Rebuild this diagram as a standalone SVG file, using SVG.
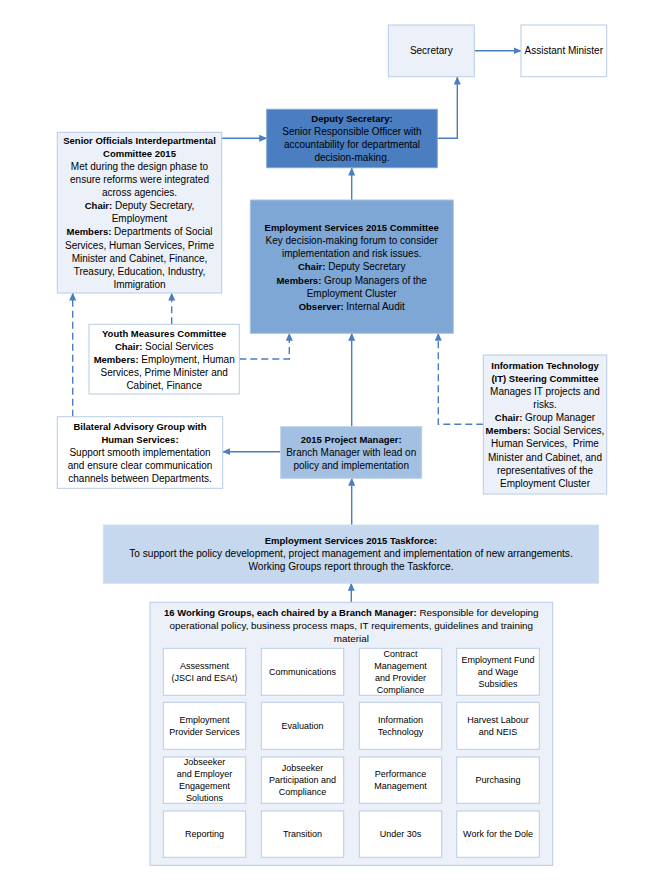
<svg xmlns="http://www.w3.org/2000/svg" width="663" height="891" viewBox="0 0 663 891">
<defs>
<style>
text{font-family:"Liberation Sans",Arial,sans-serif;font-size:10px;fill:#000;text-anchor:middle}
.b{font-weight:bold;font-size:9.5px}
.s{font-size:9px}
.h{font-size:9.9px}
.h .b{font-size:9.5px}
.t{font-size:10.15px}
.box{stroke:#B8CCE6;stroke-width:1}
.lt{fill:#ECF1F9}
.wh{fill:#FFFFFF}
.ds{fill:#4A7EC0;stroke:#7FA6D6}
.ec{fill:#7EA7D6;stroke:#A9C3E4}
.pm{fill:#A3C0E3;stroke:#BBD0EA}
.tf{fill:#C6D8EE;stroke:#D2E0F2}
.c{fill:none;stroke:#4A7EC0;stroke-width:1.4}
.d{stroke-dasharray:7,4}
</style>
<marker id="ah" viewBox="0 0 8 8" refX="7.5" refY="4" markerWidth="8" markerHeight="8" markerUnits="userSpaceOnUse" orient="auto">
<path d="M0,0.5 L8,4 L0,7.5 z" fill="#4A7EC0"/>
</marker>
</defs>
<rect width="663" height="891" fill="#FFFFFF"/>

<g id="connectors">
<line class="c" x1="474.3" y1="50.7" x2="521" y2="50.7" marker-end="url(#ah)"/>
<polyline class="c" points="437.3,138.3 457.3,138.3 457.3,77" marker-end="url(#ah)"/>
<line class="c" x1="221.7" y1="138.3" x2="266.7" y2="138.3" marker-end="url(#ah)"/>
<line class="c" x1="351.7" y1="200" x2="351.7" y2="168" marker-end="url(#ah)"/>
<line class="c" x1="351.7" y1="426.7" x2="351.7" y2="333.3" marker-end="url(#ah)"/>
<line class="c" x1="351.7" y1="525" x2="351.7" y2="478.3" marker-end="url(#ah)"/>
<line class="c" x1="351.3" y1="602.3" x2="351.3" y2="583.3" marker-end="url(#ah)"/>
<line class="c" x1="280.7" y1="451.7" x2="222.7" y2="451.7" marker-end="url(#ah)"/>
<polyline class="c d" points="239.3,359 289.3,359 289.3,333.3" marker-end="url(#ah)"/>
<line class="c d" x1="171.7" y1="324.3" x2="171.7" y2="293" marker-end="url(#ah)"/>
<line class="c d" x1="72.7" y1="416.7" x2="72.7" y2="293" marker-end="url(#ah)"/>
<polyline class="c d" points="483.3,424.3 438.3,424.3 438.3,333.3" marker-end="url(#ah)"/>
</g>

<g id="secretary">
<rect class="box lt" x="388.3" y="25" width="86" height="51.7"/>
<text x="431.3" y="54">Secretary</text>
</g>

<g id="assistant-minister">
<rect class="box wh" x="521" y="25" width="85.7" height="51.7"/>
<text x="563.8" y="54">Assistant Minister</text>
</g>

<g id="deputy-secretary">
<rect class="box ds" x="266.7" y="109.3" width="170.6" height="58.4"/>
<text x="352" y="122" class="b">Deputy Secretary:</text>
<text x="352" y="135">Senior Responsible Officer with</text>
<text x="352" y="148">accountability for departmental</text>
<text x="352" y="161">decision-making.</text>
</g>

<g id="senior-officials">
<rect class="box lt" x="57.3" y="132.3" width="164.4" height="160.7"/>
<text x="139.5" y="144" class="b">Senior Officials Interdepartmental</text>
<text x="139.5" y="157" class="b">Committee 2015</text>
<text x="139.5" y="170.1">Met during the design phase to</text>
<text x="139.5" y="183.2">ensure reforms were integrated</text>
<text x="139.5" y="196.3">across agencies.</text>
<text x="139.5" y="209.3"><tspan class="b">Chair:</tspan> Deputy Secretary,</text>
<text x="139.5" y="222.4">Employment</text>
<text x="139.5" y="235.4"><tspan class="b">Members:</tspan> Departments of Social</text>
<text x="139.5" y="248.5">Services, Human Services, Prime</text>
<text x="139.5" y="261.5">Minister and Cabinet, Finance,</text>
<text x="139.5" y="274.6">Treasury, Education, Industry,</text>
<text x="139.5" y="287.6">Immigration</text>
</g>

<g id="employment-services-committee">
<rect class="box ec" x="250.3" y="200" width="203" height="133.3"/>
<text x="351.7" y="230.6" class="b">Employment Services 2015 Committee</text>
<text x="351.7" y="243.8">Key decision-making forum to consider</text>
<text x="351.7" y="257">implementation and risk issues.</text>
<text x="351.7" y="270.3"><tspan class="b">Chair:</tspan> Deputy Secretary</text>
<text x="351.7" y="283.5"><tspan class="b">Members:</tspan> Group Managers of the</text>
<text x="351.7" y="296.7">Employment Cluster</text>
<text x="351.7" y="309.9"><tspan class="b">Observer:</tspan> Internal Audit</text>
</g>

<g id="youth-measures">
<rect class="box wh" x="89" y="324.3" width="150.3" height="69.7"/>
<text x="164.2" y="336.6" class="b">Youth Measures Committee</text>
<text x="164.2" y="349.7"><tspan class="b">Chair:</tspan> Social Services</text>
<text x="164.2" y="362.8"><tspan class="b">Members:</tspan> Employment, Human</text>
<text x="164.2" y="375.9">Services, Prime Minister and</text>
<text x="164.2" y="389">Cabinet, Finance</text>
</g>

<g id="it-steering">
<rect class="box lt" x="483.3" y="355" width="123.4" height="139"/>
<text x="545" y="369" class="b">Information Technology</text>
<text x="545" y="382.1" class="b">(IT) Steering Committee</text>
<text x="545" y="395.1">Manages IT projects and</text>
<text x="545" y="408.2">risks.</text>
<text x="545" y="421.3"><tspan class="b">Chair:</tspan> Group Manager</text>
<text x="545" y="434.3"><tspan class="b">Members:</tspan> Social Services,</text>
<text x="545" y="447.4" xml:space="preserve">Human Services,  Prime</text>
<text x="545" y="460.5">Minister and Cabinet, and</text>
<text x="545" y="473.5">representatives of the</text>
<text x="545" y="486.6">Employment Cluster</text>
</g>

<g id="project-manager">
<rect class="box pm" x="280.7" y="426.7" width="141" height="51.6"/>
<text x="351.2" y="442.6" class="b">2015 Project Manager:</text>
<text x="351.2" y="455.7">Branch Manager with lead on</text>
<text x="351.2" y="468.8">policy and implementation</text>
</g>

<g id="bilateral-advisory">
<rect class="box wh" x="57.3" y="416.7" width="165.4" height="71.6"/>
<text x="140" y="430" class="b">Bilateral Advisory Group with</text>
<text x="140" y="443" class="b">Human Services:</text>
<text x="140" y="456">Support smooth implementation</text>
<text x="140" y="469">and ensure clear communication</text>
<text x="140" y="482">channels between Departments.</text>
</g>

<g id="taskforce">
<rect class="box tf" x="103.3" y="525" width="495.4" height="58.3"/>
<text x="351" y="544" class="b">Employment Services 2015 Taskforce:</text>
<text x="351" y="557.2" class="t">To support the policy development, project management and implementation of new arrangements.</text>
<text x="351" y="570.4" class="t">Working Groups report through the Taskforce.</text>
</g>

<g id="working-groups">
<rect class="box lt" x="150" y="602.3" width="402.7" height="263"/>
<text x="351.3" y="616.2" class="h"><tspan class="b">16 Working Groups, each chaired by a Branch Manager:</tspan> Responsible for developing</text>
<text x="351.3" y="628.9" class="h">operational policy, business process maps, IT requirements, guidelines and training</text>
<text x="351.3" y="641.6" class="h">material</text>
</g>

<g id="wg-assessment">
<rect class="box wh" x="163.3" y="648.3" width="82.4" height="47"/>
<text x="204.5" y="668.8" class="s">Assessment</text>
<text x="204.5" y="680.8" class="s">(JSCI and ESAt)</text>
</g>
<g id="wg-communications">
<rect class="box wh" x="261.3" y="648.3" width="82.4" height="47"/>
<text x="302.5" y="674.8" class="s">Communications</text>
</g>
<g id="wg-contract-management">
<rect class="box wh" x="359.3" y="648.3" width="82.4" height="47"/>
<text x="400.5" y="656.8" class="s">Contract</text>
<text x="400.5" y="668.8" class="s">Management</text>
<text x="400.5" y="680.8" class="s">and Provider</text>
<text x="400.5" y="692.8" class="s">Compliance</text>
</g>
<g id="wg-employment-fund">
<rect class="box wh" x="456.7" y="648.3" width="82.6" height="47"/>
<text x="498" y="662.8" class="s">Employment Fund</text>
<text x="498" y="674.8" class="s">and Wage</text>
<text x="498" y="686.8" class="s">Subsidies</text>
</g>

<g id="wg-employment-provider">
<rect class="box wh" x="163.3" y="702.3" width="82.4" height="47"/>
<text x="204.5" y="722.8" class="s">Employment</text>
<text x="204.5" y="734.8" class="s">Provider Services</text>
</g>
<g id="wg-evaluation">
<rect class="box wh" x="261.3" y="702.3" width="82.4" height="47"/>
<text x="302.5" y="728.8" class="s">Evaluation</text>
</g>
<g id="wg-information-technology">
<rect class="box wh" x="359.3" y="702.3" width="82.4" height="47"/>
<text x="400.5" y="722.8" class="s">Information</text>
<text x="400.5" y="734.8" class="s">Technology</text>
</g>
<g id="wg-harvest-labour">
<rect class="box wh" x="456.7" y="702.3" width="82.6" height="47"/>
<text x="498" y="722.8" class="s">Harvest Labour</text>
<text x="498" y="734.8" class="s">and NEIS</text>
</g>

<g id="wg-jobseeker-employer">
<rect class="box wh" x="163.3" y="757" width="82.4" height="46.3"/>
<text x="204.5" y="765.2" class="s">Jobseeker</text>
<text x="204.5" y="777.2" class="s">and Employer</text>
<text x="204.5" y="789.2" class="s">Engagement</text>
<text x="204.5" y="801.2" class="s">Solutions</text>
</g>
<g id="wg-jobseeker-participation">
<rect class="box wh" x="261.3" y="757" width="82.4" height="46.3"/>
<text x="302.5" y="771.2" class="s">Jobseeker</text>
<text x="302.5" y="783.2" class="s">Participation and</text>
<text x="302.5" y="795.2" class="s">Compliance</text>
</g>
<g id="wg-performance">
<rect class="box wh" x="359.3" y="757" width="82.4" height="46.3"/>
<text x="400.5" y="777.2" class="s">Performance</text>
<text x="400.5" y="789.2" class="s">Management</text>
</g>
<g id="wg-purchasing">
<rect class="box wh" x="456.7" y="757" width="82.6" height="46.3"/>
<text x="498" y="783.2" class="s">Purchasing</text>
</g>

<g id="wg-reporting">
<rect class="box wh" x="163.3" y="811" width="82.4" height="46.3"/>
<text x="204.5" y="837.2" class="s">Reporting</text>
</g>
<g id="wg-transition">
<rect class="box wh" x="261.3" y="811" width="82.4" height="46.3"/>
<text x="302.5" y="837.2" class="s">Transition</text>
</g>
<g id="wg-under-30s">
<rect class="box wh" x="359.3" y="811" width="82.4" height="46.3"/>
<text x="400.5" y="837.2" class="s">Under 30s</text>
</g>
<g id="wg-work-for-the-dole">
<rect class="box wh" x="456.7" y="811" width="82.6" height="46.3"/>
<text x="498" y="837.2" class="s">Work for the Dole</text>
</g>
</svg>
